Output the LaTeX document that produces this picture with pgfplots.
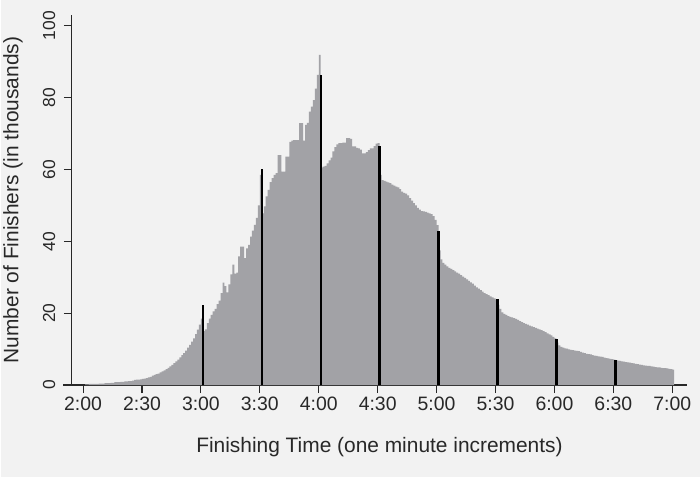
\documentclass[border=0pt]{standalone}
\usepackage{fontspec}
\setmainfont{Liberation Sans}
\usepackage{pgfplots}
\usepackage{pgfplotstable}
\pgfplotsset{compat=1.18}
\definecolor{bg}{RGB}{242,242,242}
\definecolor{histgray}{RGB}{162,162,166}
\definecolor{ink}{RGB}{40,40,40}
\pgfplotstableread{
x y
121 0.2
122 0.2
123 0.3
124 0.3
125 0.3
126 0.3
127 0.3
128 0.4
129 0.4
130 0.4
131 0.5
132 0.5
133 0.5
134 0.6
135 0.6
136 0.8
137 0.8
138 0.8
139 0.9
140 0.9
141 1.0
142 1.0
143 1.1
144 1.1
145 1.2
146 1.4
147 1.5
148 1.5
149 1.6
150 1.7
151 1.8
152 1.9
153 2.1
154 2.3
155 2.6
156 2.8
157 3.0
158 3.2
159 3.5
160 3.8
161 4.1
162 4.4
163 4.8
164 5.2
165 5.6
166 6.1
167 6.6
168 7.1
169 7.7
170 8.3
171 8.9
172 9.6
173 10.4
174 11.2
175 12.1
176 13.0
177 14.2
178 15.4
179 16.8
180 18.5
181 15.0
182 15.5
183 17.2
184 18.5
185 19.5
186 20.5
187 21.2
188 22.5
189 23.5
190 25.6
191 28.5
192 27.5
193 25.8
194 28.0
195 30.8
196 33.5
197 31.0
198 31.3
199 35.8
200 38.5
201 38.5
202 35.3
203 38.0
204 39.0
205 41.3
206 43.0
207 44.6
208 46.5
209 50.0
210 58.5
211 47.8
212 49.7
213 52.5
214 54.3
215 56.5
216 57.6
217 58.5
218 59.0
219 64.0
220 64.0
221 59.4
222 59.4
223 63.6
224 63.6
225 67.7
226 68.0
227 68.2
228 68.2
229 68.2
230 72.9
231 72.9
232 68.0
233 72.4
234 73.0
235 76.1
236 77.5
237 79.3
238 82.5
239 86.3
240 91.9
241 60.5
242 60.8
243 61.0
244 61.7
245 62.5
246 63.3
247 65.0
248 66.2
249 67.0
250 67.3
251 67.3
252 67.5
253 67.5
254 68.7
255 68.7
256 68.5
257 66.4
258 66.4
259 66.0
260 65.9
261 65.5
262 64.5
263 64.5
264 64.8
265 65.4
266 65.9
267 65.9
268 66.5
269 67.2
270 67.3
271 58.5
272 57.0
273 56.8
274 56.6
275 56.4
276 56.2
277 55.8
278 55.5
279 55.2
280 55.0
281 54.5
282 53.8
283 53.5
284 53.3
285 52.8
286 52.0
287 51.3
288 50.6
289 50.0
290 49.3
291 48.8
292 48.4
293 48.3
294 48.2
295 48.0
296 47.8
297 47.6
298 47.0
299 46.0
300 44.5
301 37.5
302 35.0
303 34.0
304 33.5
305 33.0
306 32.6
307 32.3
308 32.0
309 31.6
310 31.3
311 31.0
312 30.6
313 30.2
314 29.8
315 29.4
316 29.0
317 28.6
318 28.2
319 27.7
320 27.2
321 26.8
322 26.4
323 26.0
324 25.6
325 25.3
326 25.0
327 24.7
328 24.4
329 24.1
330 23.8
331 22.3
332 21.2
333 20.2
334 19.8
335 19.5
336 19.2
337 19.0
338 18.8
339 18.6
340 18.4
341 18.1
342 17.8
343 17.5
344 17.2
345 17.0
346 16.8
347 16.5
348 16.3
349 16.1
350 15.9
351 15.7
352 15.5
353 15.3
354 15.0
355 14.7
356 14.4
357 14.1
358 13.8
359 13.4
360 13.0
361 11.8
362 11.0
363 10.6
364 10.4
365 10.2
366 10.1
367 9.9
368 9.8
369 9.7
370 9.6
371 9.5
372 9.4
373 9.2
374 9.0
375 8.9
376 8.7
377 8.6
378 8.5
379 8.3
380 8.2
381 8.1
382 8.0
383 7.9
384 7.8
385 7.6
386 7.5
387 7.4
388 7.3
389 7.2
390 7.1
391 6.9
392 6.8
393 6.7
394 6.6
395 6.5
396 6.4
397 6.3
398 6.2
399 6.1
400 6.0
401 5.9
402 5.8
403 5.7
404 5.6
405 5.5
406 5.4
407 5.3
408 5.3
409 5.2
410 5.1
411 5.0
412 4.9
413 4.9
414 4.8
415 4.7
416 4.7
417 4.6
418 4.5
419 4.4
420 4.3
421 4.3
}\hist
\pgfplotstableread{
x y
181 22.2
211 60.0
241 86.2
271 66.5
301 43.0
331 23.9
361 12.8
391 7.0
}\marks
\begin{document}
\begin{tikzpicture}
\fill[bg] (0,0) rectangle (700bp,477bp);
\begin{axis}[
  at={(71.4bp,91.7bp)}, anchor=south west,
  scale only axis, width=615.6bp, height=370.3bp,
  xmin=114.3, xmax=427.5, ymin=0, ymax=103,
  axis x line=bottom, axis y line=left,
  axis line style={-, ink, line width=1.1bp},
  clip=false,
  xtick={120,150,...,420},
  xticklabels={2:00,2:30,3:00,3:30,4:00,4:30,5:00,5:30,6:00,6:30,7:00},
  ytick={0,20,...,100},
  tick align=outside, major tick length=8bp,
  tick style={ink, line width=1.1bp},
  /pgf/number format/assume math mode=true,
  xticklabel style={font=\fontsize{19.5}{19.5}\selectfont, text=ink},
  yticklabel style={font=\fontsize{17.5}{17.5}\selectfont, text=ink, xshift=-5bp, rotate=90, anchor=south},
  xlabel={Finishing Time (one minute increments)},
  ylabel={Number of Finishers (in thousands)},
  label style={font=\fontsize{21}{21}\selectfont, text=ink},
  xlabel style={at={(rel axis cs:0.5,-0.182)}, anchor=base},
  ylabel style={at={(rel axis cs:-0.0868,0.5)}, anchor=base},
]
\addplot[const plot, fill=histgray, draw=none] table[x=x,y=y] {\hist} \closedcycle;
\addplot[ycomb, black, line width=2.4bp] table[x=x,y=y] {\marks};
\draw[ink, line width=1.1bp] (axis cs:109.8,0) -- (axis cs:114.3,0);
\end{axis}
\end{tikzpicture}
\end{document}
